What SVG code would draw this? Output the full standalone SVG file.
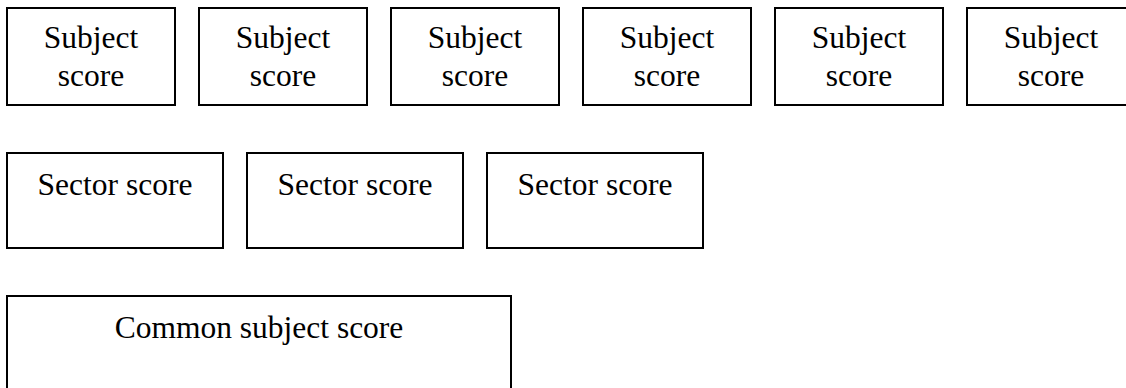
<svg xmlns="http://www.w3.org/2000/svg" width="1126" height="388" viewBox="0 0 1126 388">
<style>
.box{fill:#fff;stroke:#000;stroke-width:2}
.t{font-family:"Liberation Serif","Times New Roman",serif;font-size:31.5px;fill:#000;text-anchor:middle}
</style>
<rect width="1126" height="388" fill="#fff"/>
<g id="subject1"><rect class="box" x="7" y="8" width="168" height="97"/><text class="t" x="91" y="48">Subject</text><text class="t" x="91" y="86">score</text></g>
<g id="subject2"><rect class="box" x="199" y="8" width="168" height="97"/><text class="t" x="283" y="48">Subject</text><text class="t" x="283" y="86">score</text></g>
<g id="subject3"><rect class="box" x="391" y="8" width="168" height="97"/><text class="t" x="475" y="48">Subject</text><text class="t" x="475" y="86">score</text></g>
<g id="subject4"><rect class="box" x="583" y="8" width="168" height="97"/><text class="t" x="667" y="48">Subject</text><text class="t" x="667" y="86">score</text></g>
<g id="subject5"><rect class="box" x="775" y="8" width="168" height="97"/><text class="t" x="859" y="48">Subject</text><text class="t" x="859" y="86">score</text></g>
<g id="subject6"><rect class="box" x="967" y="8" width="168" height="97"/><text class="t" x="1051" y="48">Subject</text><text class="t" x="1051" y="86">score</text></g>
<g id="sector1"><rect class="box" x="7" y="153" width="216" height="95"/><text class="t" x="115" y="195">Sector score</text></g>
<g id="sector2"><rect class="box" x="247" y="153" width="216" height="95"/><text class="t" x="355" y="195">Sector score</text></g>
<g id="sector3"><rect class="box" x="487" y="153" width="216" height="95"/><text class="t" x="595" y="195">Sector score</text></g>
<g id="common"><rect class="box" x="7" y="296" width="504" height="110"/><text class="t" x="259" y="338">Common subject score</text></g>
<g id="connectors"></g>
</svg>
